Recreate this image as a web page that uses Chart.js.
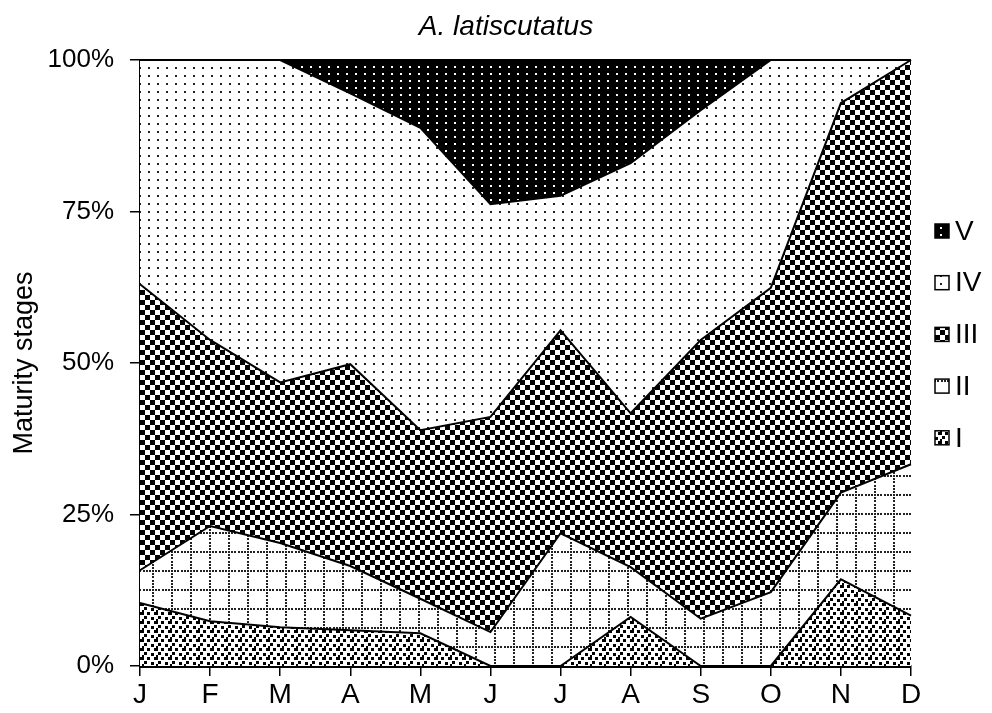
<!DOCTYPE html>
<html>
<head>
<meta charset="utf-8">
<script src="https://cdn.jsdelivr.net/npm/chart.js@4"></script>
<style>
html,body{margin:0;padding:0;background:#fff;}
#wrap{width:992px;height:713px;position:relative;}
</style>
</head>
<body>
<div id="wrap"><canvas id="chart"></canvas></div>
<script>
// monthly share of each maturity stage (%)
var months = ['J','F','M','A','M','J','J','A','S','O','N','D'];
var stageNames = ['I','II','III','IV','V'];
var stageI   = [10.4, 7.4, 6.4, 5.9, 5.4, 0, 0, 8.1, 0, 0, 14.3, 8.3];
var stageII  = [5.4, 15.7, 13.9, 10.6, 5.7, 5.6, 21.9, 8.2, 7.8, 12.2, 14.3, 25.0];
var stageIII = [47.2, 30.7, 26.5, 33.3, 27.8, 35.5, 33.5, 25.4, 46.0, 50.2, 64.3, 66.7];
var stageIV  = [37.0, 46.2, 53.2, 44.7, 49.9, 35.1, 22.2, 41.3, 37.9, 37.6, 7.1, 0];
var stageV   = [0, 0, 0, 5.5, 11.2, 23.8, 22.4, 17.0, 8.3, 0, 0, 0];
var yTicks = [0, 25, 50, 75, 100];
var titleText = 'A. latiscutatus';
var yTitle = 'Maturity stages';

var FONT = '"Liberation Sans", Arial, sans-serif';

function tile(w, h, draw){
  var c = document.createElement('canvas');
  c.width = w; c.height = h;
  var g = c.getContext('2d');
  draw(g, w, h);
  return c;
}
function pattern(t){
  var ctx = document.createElement('canvas').getContext('2d');
  return ctx.createPattern(t, 'repeat');
}

// V: black with white dots
var patV = pattern(tile(9, 7, function(g, w, h){
  g.fillStyle = '#000'; g.fillRect(0, 0, w, h);
  g.fillStyle = '#fff'; g.fillRect(4, 3, 2, 2);
}));
// IV: sparse dots
var patIV = pattern(tile(9, 8, function(g, w, h){
  g.fillStyle = '#fff'; g.fillRect(0, 0, w, h);
  g.fillStyle = '#222'; g.fillRect(4, 3, 2, 2);
}));
// III: checkerboard
var patIII = pattern(tile(10, 10, function(g, w, h){
  g.fillStyle = '#fff'; g.fillRect(0, 0, w, h);
  g.fillStyle = '#000'; g.fillRect(0, 0, 5, 5); g.fillRect(5, 5, 5, 5);
}));
// II: dotted grid
var patII = pattern(tile(19, 19, function(g, w, h){
  g.fillStyle = '#fff'; g.fillRect(0, 0, w, h);
  g.fillStyle = '#222';
  for (var i = 0; i < 6; i++){
    var p = Math.round(i * 19 / 6);
    g.fillRect(p, 0, 2, 2);
    if (i > 0) g.fillRect(0, p, 2, 2);
  }
}));
// I: confetti
var patI = pattern(tile(14, 9, function(g, w, h){
  g.fillStyle = '#fff'; g.fillRect(0, 0, w, h);
  g.fillStyle = '#000';
  [[0,0,4,3],[7,0,3,3],[4,4,3,3],[11,5,3,3],[2,7,2,2]].forEach(function(r){
    g.fillRect(r[0], r[1], r[2], r[3]);
  });
}));
var patterns = [patI, patII, patIII, patIV, patV];

function ds(i, data, fill){
  return {label: stageNames[i], data: data, backgroundColor: patterns[i],
    borderColor: '#000', borderWidth: 2, pointRadius: 0, tension: 0,
    fill: fill, clip: false};
}

var extras = {
  id: 'extras',
  afterDraw: function(chart){
    var c = chart.ctx;
    c.save();
    c.fillStyle = '#000';
    c.textAlign = 'center';
    c.textBaseline = 'middle';
    c.font = 'italic 28px ' + FONT;
    c.fillText(titleText, 506, 27);

    // legend, top item is V
    c.textAlign = 'left';
    c.font = '28px ' + FONT;
    for (var k = 0; k < stageNames.length; k++){
      var i = stageNames.length - 1 - k;
      var y = 231 + k * 51.7;
      c.fillStyle = patterns[i];
      c.fillRect(935, y - 7, 14, 14);
      c.strokeStyle = '#000'; c.lineWidth = 1.5;
      c.strokeRect(935, y - 7, 14, 14);
      c.fillStyle = '#000';
      c.fillText(stageNames[i], 955, y + 1);
    }
    c.restore();
  }
};

new Chart(document.getElementById('chart'), {
  type: 'line',
  data: {
    labels: months,
    datasets: [
      ds(0, stageI, 'origin'),
      ds(1, stageII, '-1'),
      ds(2, stageIII, '-1'),
      ds(3, stageIV, '-1'),
      ds(4, stageV, '-1')
    ]
  },
  options: {
    responsive: true, maintainAspectRatio: false, animation: false,
    devicePixelRatio: 1,
    layout: {padding: {top: 60, left: 8, right: 81, bottom: 0}},
    plugins: {
      legend: {display: false},
      title: {display: false},
      tooltip: {enabled: false},
      filler: {drawTime: 'beforeDatasetsDraw'}
    },
    scales: {
      x: {
        offset: false,
        ticks: {color: '#000', font: {family: FONT, size: 28}, padding: 2, maxRotation: 0, autoSkip: false},
        grid: {drawOnChartArea: false, tickLength: 10, color: '#000', lineWidth: 1.5},
        border: {color: '#000', width: 3},
        afterFit: function(s){ s.height = 47; }
      },
      y: {
        stacked: true, min: 0, max: 100,
        afterBuildTicks: function(s){ s.ticks = yTicks.map(function(v){ return {value: v}; }); },
        ticks: {color: '#000', font: {family: FONT, size: 26}, padding: 16,
          callback: function(v){ return v + '%'; }},
        title: {display: true, text: yTitle, color: '#000', font: {family: FONT, size: 27}, padding: 0},
        grid: {drawOnChartArea: false, tickLength: 10, color: '#000', lineWidth: 1.5},
        border: {color: '#000', width: 3},
        afterFit: function(s){ s.width = 132; }
      }
    }
  },
  plugins: [extras]
});
</script>
</body>
</html>
